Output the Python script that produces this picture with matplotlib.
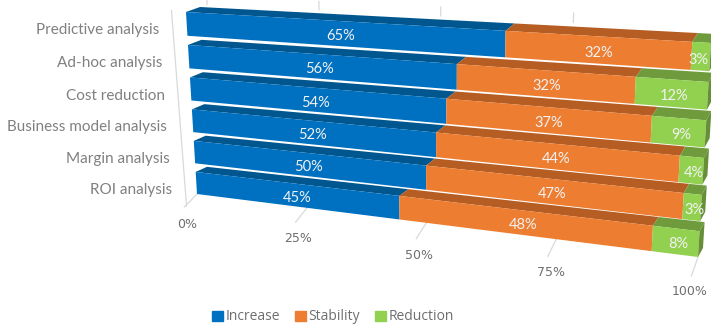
import numpy as np
import matplotlib
matplotlib.use('Agg')
import matplotlib.pyplot as plt
from matplotlib.patches import Patch

# data
categories = ['Predictive analysis', 'Ad-hoc analysis', 'Cost reduction',
              'Business model analysis', 'Margin analysis', 'ROI analysis']
increase = [65, 56, 54, 52, 50, 45]
stability = [32, 32, 37, 44, 47, 48]
reduction = [3, 12, 9, 4, 3, 8]
series_names = ['Increase', 'Stability', 'Reduction']
axis_ticks = [0, 25, 50, 75, 100]

front_colors = ['#0070C0', '#ED7D31', '#92D050']
top_colors = ['#00578F', '#B55D22', '#6F9B3D']
side_colors = ['#00578F', '#B55D22', '#668F38']

BAR = 0.72  # bar thickness, row pitch = 1


def homography(src, dst):
    # solve the 3x3 matrix for 4 point pairs
    A = []
    b = []
    for (u, v), (x, y) in zip(src, dst):
        A.append([u, v, 1, 0, 0, 0, -u * x, -v * x])
        A.append([0, 0, 0, u, v, 1, -u * y, -v * y])
        b += [x, y]
    h = np.linalg.solve(np.array(A, float), np.array(b, float))
    return np.append(h, 1).reshape(3, 3)


plane = [(0, 0), (100, 0), (0, 5 + BAR), (100, 5 + BAR)]
H_front = homography(plane, [(186, 12), (711, 43), (197, 194), (698, 257)])
H_back = homography(plane, [(200, 7), (716, 34), (208, 189), (703, 248)])


def project(v, r, d=0.0):
    # value, row, depth -> picture position
    pf = H_front @ [v, r, 1]
    pb = H_back @ [v, r, 1]
    pf = pf[:2] / pf[2]
    pb = pb[:2] / pb[2]
    return pf + (pb - pf) * d


fig = plt.figure(figsize=(7.11, 3.24), dpi=100)
ax = fig.add_axes([0, 0, 1, 1])
ax.set_xlim(0, 711)
ax.set_ylim(324, 0)
ax.axis('off')

grid_c = '#D9D9D9'


def seg(a, b):
    ax.plot([a[0], b[0]], [a[1], b[1]], color=grid_c, lw=0.9, zorder=1)


# walls and ticks
seg(project(0, -0.2, -1), project(0, 5.95, -1))
for t in axis_ticks:
    seg(project(t, 5.95, -1.2), project(t, 5 + BAR, 0))
for t in axis_ticks[:-1]:
    seg(project(t, -0.25, 1.5), project(t, 0, 1.5))

# bars, top row first
table = np.array([increase, stability, reduction], float)
for i, name in enumerate(categories):
    vals = table[:, i] / table[:, i].sum() * 100
    left = 0
    for j, val in enumerate(vals):
        right = left + val
        q = [project(left, i), project(right, i),
             project(right, i, 1), project(left, i, 1)]
        ax.fill(*zip(*q), color=top_colors[j], lw=0, zorder=2 + i)
        q = [project(left, i), project(right, i),
             project(right, i + BAR), project(left, i + BAR)]
        ax.fill(*zip(*q), color=front_colors[j], lw=0, zorder=2 + i)
        if j == 2:
            q = [project(right, i), project(right, i, 1),
                 project(right, i + BAR, 1), project(right, i + BAR)]
            ax.fill(*zip(*q), color=side_colors[j], lw=0, zorder=2 + i)
        c = project(left + val / 2, i + BAR / 2)
        # keep the narrow end labels inside the picture
        ax.text(min(c[0] + 3, 698), c[1] + 3, f'{int(table[j, i])}%', color='#F2F2F2', fontsize=10.5,
                family='Lato', ha='center', va='center', zorder=10)
        left = right
    # category label next to the left wall
    p = project(0, i + 0.28, -1)
    ax.text(p[0] - 13, p[1] + 4, name, color='#808080', fontsize=11, family='Lato',
            ha='right', va='center')

# value axis labels
for t in axis_ticks:
    p = project(t, 5 + BAR, -1.2)
    ax.text(min(p[0] + 3, 690), p[1] + 24, f'{t}%', color='#6E6E6E', fontsize=9, family='DejaVu Sans',
            ha='center', va='center')

handles = [Patch(color=c, label=n) for c, n in zip(front_colors, series_names)]
ax.legend(handles=handles, loc='center', bbox_to_anchor=(333 / 711, 1 - 317 / 324), ncol=3,
          frameon=False, handlelength=0.75, handleheight=0.75, handletextpad=0.2,
          columnspacing=1.1, labelcolor='#6E6E6E',
          prop={'family': 'Open Sans', 'size': 10})

fig.savefig('out.png', dpi=100)
